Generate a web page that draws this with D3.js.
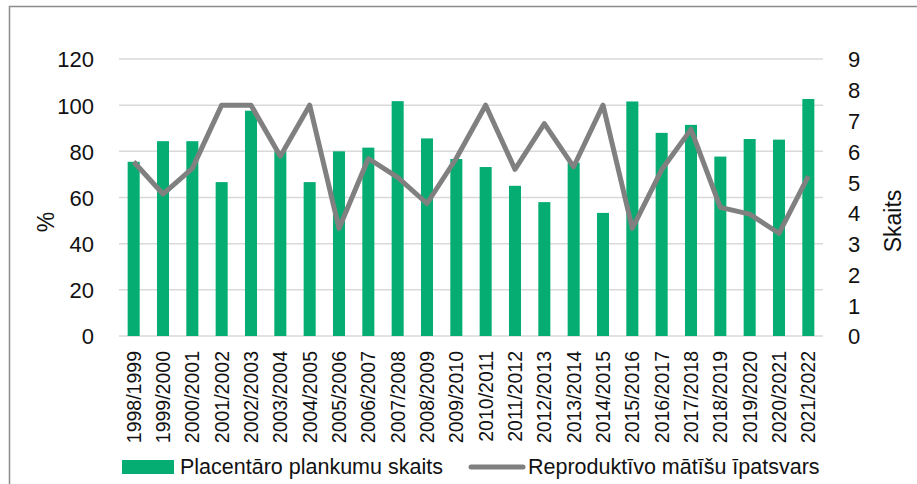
<!DOCTYPE html>
<html lang="lv">
<head>
<meta charset="utf-8">
<title>Placentāro plankumu skaits</title>
<script src="https://cdn.jsdelivr.net/npm/d3@7"></script>
<style>
  body { margin: 0; background: #fff; }
  text { font-family: "Liberation Sans", Arial, sans-serif; fill: #111; }
</style>
</head>
<body>
<svg id="chart" width="917" height="484"></svg>
<script>
// seasons
var seasons = ["1998/1999","1999/2000","2000/2001","2001/2002","2002/2003","2003/2004",
  "2004/2005","2005/2006","2006/2007","2007/2008","2008/2009","2009/2010","2010/2011",
  "2011/2012","2012/2013","2013/2014","2014/2015","2015/2016","2016/2017","2017/2018",
  "2018/2019","2019/2020","2020/2021","2021/2022"];

// bars - right axis (Skaits)
var scarCount = [5.66, 6.33, 6.33, 5.0, 7.32, 6.0, 5.0, 6.0, 6.12, 7.63, 6.42, 5.75,
  5.49, 4.88, 4.35, 5.63, 4.0, 7.62, 6.6, 6.86, 5.83, 6.4, 6.38, 7.7];

// line - left axis (%)
var femaleShare = [75.5, 61.5, 72.6, 100, 100, 77.9, 100, 46.6, 76.9, 68.7, 57.4, 77,
  100, 72.2, 92, 73.3, 100, 46.6, 72, 89.5, 55.7, 52.8, 44.5, 69.3];

var leftTicks = [0, 20, 40, 60, 80, 100, 120];
var rightTicks = [0, 1, 2, 3, 4, 5, 6, 7, 8, 9];

var barColor = "#05ad72", lineColor = "#808080";

var svg = d3.select("#chart");

// outer frame
svg.append("path")
    .attr("d", "M9.5,484 V6.5 H917")
    .attr("fill", "none")
    .attr("stroke", "#8c8c8c")
    .attr("stroke-width", 1.5);

var x = d3.scaleBand().domain(seasons).range([119, 823])
    .paddingInner(0.59).paddingOuter(0.295);
var yL = d3.scaleLinear().domain([0, 120]).range([336, 59]);
var yR = d3.scaleLinear().domain([0, 9]).range([336, 59]);

// gridlines
svg.append("g").selectAll("line").data(leftTicks).enter().append("line")
    .attr("x1", 119).attr("x2", 823)
    .attr("y1", function(d) { return yL(d); })
    .attr("y2", function(d) { return yL(d); })
    .attr("stroke", "#d9d9d9").attr("stroke-width", 1.5);

// left axis
var gl = svg.append("g").attr("transform", "translate(119,0)")
    .call(d3.axisLeft(yL).tickValues(leftTicks).tickSize(0).tickPadding(25));
gl.select(".domain").remove();
gl.selectAll("text").style("font-size", "22px").attr("dy", "0.36em");

// right axis
var gr = svg.append("g").attr("transform", "translate(823,0)")
    .call(d3.axisRight(yR).tickValues(rightTicks).tickSize(0).tickPadding(25));
gr.select(".domain").remove();
gr.selectAll("text").style("font-size", "22px").attr("dy", "0.36em");

// bottom axis labels
var gx = svg.append("g").attr("transform", "translate(0,336)")
    .call(d3.axisBottom(x).tickSize(0).tickPadding(0));
gx.select(".domain").remove();
gx.selectAll("text")
    .style("font-size", "19.5px")
    .attr("text-anchor", "end")
    .attr("transform", "rotate(-90)")
    .attr("x", -15).attr("y", 0).attr("dy", "0.36em");

// bars
svg.append("g").selectAll("rect").data(scarCount).enter().append("rect")
    .attr("x", function(d, i) { return x(seasons[i]); })
    .attr("width", x.bandwidth())
    .attr("y", function(d) { return yR(d); })
    .attr("height", function(d) { return yR(0) - yR(d); })
    .attr("fill", barColor);

// line
var line = d3.line()
    .x(function(d, i) { return x(seasons[i]) + x.bandwidth() / 2; })
    .y(function(d) { return yL(d); });
svg.append("path").datum(femaleShare)
    .attr("d", line)
    .attr("fill", "none")
    .attr("stroke", lineColor)
    .attr("stroke-width", 5)
    .attr("stroke-linejoin", "round");

// axis titles
svg.append("text").attr("transform", "translate(46,222) rotate(-90)")
    .attr("text-anchor", "middle").attr("dy", "0.36em")
    .style("font-size", "23px").text("%");
svg.append("text").attr("transform", "translate(893,221) rotate(-90)")
    .attr("text-anchor", "middle").attr("dy", "0.36em")
    .style("font-size", "23px").text("Skaits");

// legend
var lg = svg.append("g");
lg.append("rect").attr("x", 122).attr("y", 460).attr("width", 52).attr("height", 14)
    .attr("fill", barColor);
lg.append("text").attr("x", 180).attr("y", 474)
    .style("font-size", "21.5px").text("Placentāro plankumu skaits");
lg.append("line").attr("x1", 471).attr("x2", 523).attr("y1", 467).attr("y2", 467)
    .attr("stroke", lineColor).attr("stroke-width", 5).attr("stroke-linecap", "round");
lg.append("text").attr("x", 528).attr("y", 474)
    .style("font-size", "21.5px").text("Reproduktīvo mātīšu īpatsvars");
</script>
</body>
</html>
